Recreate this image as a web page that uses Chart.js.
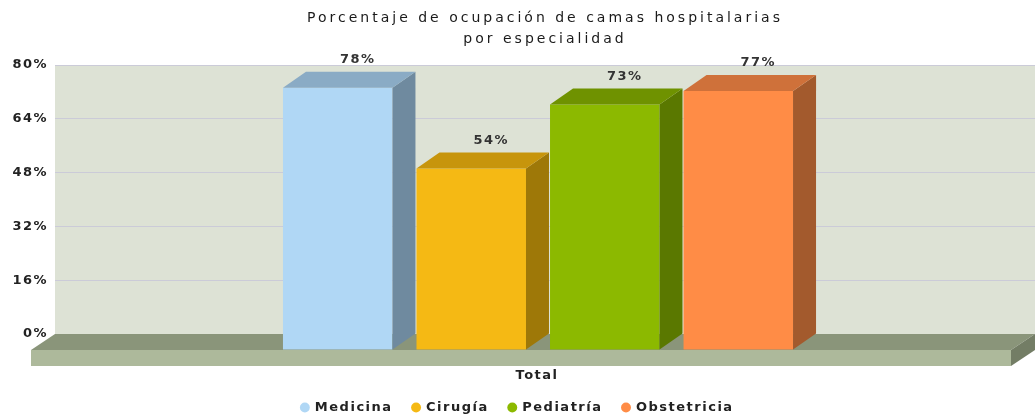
<!DOCTYPE html>
<html>
<head>
<meta charset="utf-8">
<script src="https://cdn.jsdelivr.net/npm/chart.js@4/dist/chart.umd.min.js"></script>
<style>
  html, body { margin: 0; padding: 0; background: #fff; }
  #wrap { width: 1035px; height: 417px; }
</style>
</head>
<body>
<div id="wrap"><canvas id="camasChart"></canvas></div>
<script>
// data
const categories = ['Total'];
const seriesNames = ['Medicina', 'Cirugía', 'Pediatría', 'Obstetricia'];
const medicina = [78];
const cirugia = [54];
const pediatria = [73];
const obstetricia = [77];
const yMax = 80;
const yStep = 16;

// colours: front, side, top
const frontColors = ['#b0d7f5', '#f5b914', '#8cb900', '#ff8c46'];
const sideColors = ['#6f8a9f', '#9e7808', '#5a7800', '#a35a2d'];
const topColors = ['#8aabc5', '#c7950c', '#6f9200', '#cf713a'];

const FONT = "'DejaVu Sans', sans-serif";
const FRONT_DX = -7, FRONT_DY = 16;   // bars sit in front of the wall
const DEPTH_X = 23, DEPTH_Y = -16;    // bar / floor depth
const FLOOR_DX = -24;

function quad(ctx, pts, color) {
  ctx.beginPath();
  ctx.moveTo(pts[0][0], pts[0][1]);
  for (let i = 1; i < pts.length; i++) ctx.lineTo(pts[i][0], pts[i][1]);
  ctx.closePath();
  ctx.fillStyle = color;
  ctx.fill();
}

const spacing = {
  id: 'spacing',
  beforeLayout(chart) { chart.ctx.letterSpacing = '1.5px'; },
  beforeDraw(chart) {
    const ctx = chart.ctx;
    ctx.letterSpacing = '1.5px';
    const a = chart.chartArea;
    ctx.fillStyle = '#dde2d5';
    ctx.fillRect(a.left, a.top, a.right - a.left, a.bottom - a.top);
  }
};

const bars3d = {
  id: 'bars3d',
  beforeDatasetsDraw(chart) {
    const ctx = chart.ctx;
    const a = chart.chartArea;
    const b = a.bottom;
    const fl = a.left + FLOOR_DX, fr = a.right + FLOOR_DX, fb = b + FRONT_DY;
    // floor top
    quad(ctx, [[a.left, b], [a.right, b], [fr, fb], [fl, fb]], '#8a957a');
    // floor front
    ctx.fillStyle = '#adb99b';
    ctx.fillRect(fl, fb, fr - fl, 16);
    // floor right side
    quad(ctx, [[fr, fb], [a.right, b], [a.right, b + 16], [fr, fb + 16]], '#737d65');
    ctx.save();
    ctx.translate(FRONT_DX, FRONT_DY);
  },
  afterDatasetsDraw(chart) {
    const ctx = chart.ctx;
    ctx.restore();
    chart.data.datasets.forEach((ds, i) => {
      const meta = chart.getDatasetMeta(i);
      meta.data.forEach((bar, j) => {
        const l = bar.x - bar.width / 2 + FRONT_DX;
        const r = bar.x + bar.width / 2 + FRONT_DX;
        const t = bar.y + FRONT_DY;
        const bt = bar.base + FRONT_DY;
        quad(ctx, [[r, t], [r + DEPTH_X, t + DEPTH_Y], [r + DEPTH_X, bt + DEPTH_Y], [r, bt]], sideColors[i]);
        quad(ctx, [[l, t], [r, t], [r + DEPTH_X, t + DEPTH_Y], [l + DEPTH_X, t + DEPTH_Y]], topColors[i]);
        ctx.fillStyle = '#333';
        ctx.font = 'bold 13px ' + FONT;
        ctx.textAlign = 'center';
        ctx.textBaseline = 'middle';
        ctx.fillText(ds.data[j] + '%', bar.x + 13, bar.y - 12);
      });
    });
  }
};

const seriesData = [medicina, cirugia, pediatria, obstetricia];

const chart = new Chart(document.getElementById('camasChart'), {
  type: 'bar',
  data: {
    labels: categories,
    datasets: seriesNames.map((name, i) => ({
      label: name,
      data: seriesData[i],
      backgroundColor: frontColors[i],
      borderWidth: 0,
      clip: false,
      barPercentage: 0.82,
      categoryPercentage: 0.545
    }))
  },
  options: {
    responsive: true,
    maintainAspectRatio: false,
    animation: false,
    layout: { padding: { left: 0, right: 0, top: 0, bottom: -7 } },
    plugins: {
      title: {
        display: true,
        text: ['Porcentaje de ocupación de camas hospitalarias', 'por especialidad'],
        color: '#1a1a1a',
        font: { family: FONT, size: 14, weight: 'normal', lineHeight: 1.5 },
        padding: { top: 8, bottom: 15 }
      },
      legend: {
        position: 'bottom',
        labels: {
          color: '#222',
          font: { family: FONT, size: 13, weight: 'bold' },
          usePointStyle: true,
          pointStyle: 'circle',
          boxWidth: 7,
          boxHeight: 7,
          padding: 20
        }
      },
      tooltip: { enabled: false }
    },
    scales: {
      x: {
        afterFit(scale) { scale.height = 47; },
        grid: { display: false, drawTicks: false },
        border: { display: false },
        ticks: {
          color: '#222',
          font: { family: FONT, size: 13, weight: 'bold' },
          padding: 34,
          labelOffset: -8
        }
      },
      y: {
        min: 0,
        max: yMax,
        afterFit(scale) { scale.width = 55; },
        grid: { color: '#cbcbd8', drawTicks: false },
        border: { display: false },
        ticks: {
          stepSize: yStep,
          padding: 7,
          color: '#222',
          font: { family: FONT, size: 13, weight: 'bold' },
          callback: v => v + '%'
        }
      }
    }
  },
  plugins: [spacing, bars3d]
});

// title: wider letter spacing, centred over the wall like the original
const titleDraw = chart.titleBlock.draw.bind(chart.titleBlock);
chart.titleBlock.draw = function (area) {
  const ctx = chart.ctx;
  ctx.save();
  ctx.letterSpacing = '3px';
  ctx.translate((chart.chartArea.left + chart.chartArea.right) / 2 - chart.width / 2, 0);
  titleDraw(area);
  ctx.restore();
};
chart.draw();
</script>
</body>
</html>
